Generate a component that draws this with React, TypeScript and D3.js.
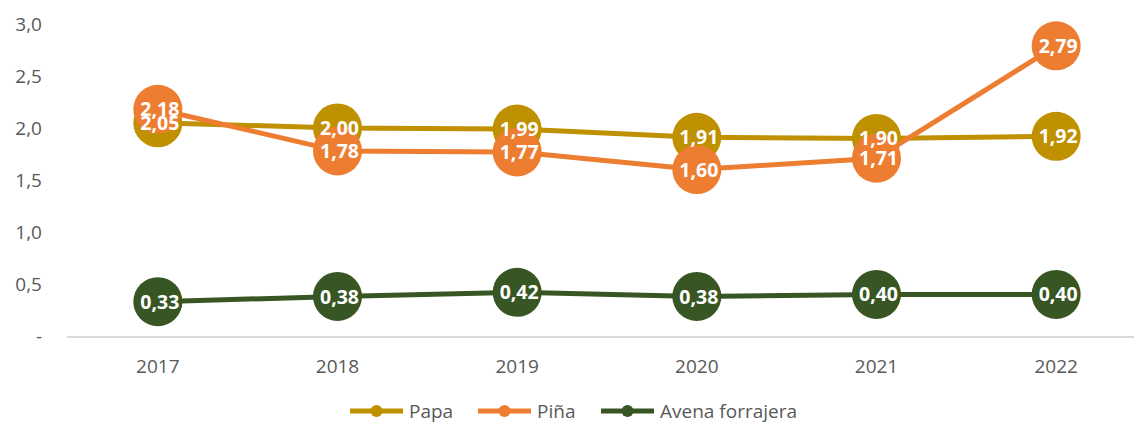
import React from "react";
import * as d3 from "d3";

const years = ["2017", "2018", "2019", "2020", "2021", "2022"];
const papa = [2.05, 2.0, 1.99, 1.91, 1.9, 1.92];
const pina = [2.18, 1.78, 1.77, 1.6, 1.71, 2.79];
const avena = [0.33, 0.38, 0.42, 0.38, 0.4, 0.4];
const yTicks = [0, 0.5, 1.0, 1.5, 2.0, 2.5, 3.0];

const seriesNames = ["Papa", "Piña", "Avena forrajera"];
const seriesColors = ["#BF9000", "#ED7D31", "#375623"];

const W = 1134;
const H = 423;
const FONT = "'Open Sans', Lato, sans-serif";

const fmt = (v: number) => v.toFixed(2).replace(".", ",");
const fmtTick = (v: number) => (v === 0 ? "-" : v.toFixed(1).replace(".", ","));

export default function App() {
  const x = d3.scaleBand<string>().domain(years).range([68, 1146]);
  const y = d3.scaleLinear().domain([0, 3]).range([336, 24]);
  const cx = (yr: string) => (x(yr) ?? 0) + x.bandwidth() / 2;
  const data = [papa, pina, avena];
  const line = d3
    .line<number>()
    .x((_, i) => cx(years[i]))
    .y((d) => y(d));

  const legendItems = [
    { lx: 350, tx: 409 },
    { lx: 478, tx: 537 },
    { lx: 601, tx: 660 },
  ];

  return (
    <svg width={W} height={H} style={{ position: "absolute", left: 0, top: 0, background: "#fff" }}>
      {yTicks.map((t) => (
        <text
          key={t}
          x={42}
          y={y(t)}
          dy="0.35em"
          textAnchor="end"
          fontFamily={FONT}
          fontSize={19}
          fill="#595959"
        >
          {fmtTick(t)}
        </text>
      ))}
      <line x1={67} x2={W} y1={y(0) + 1} y2={y(0) + 1} stroke="#D9D9D9" strokeWidth={2} />
      {years.map((yr) => (
        <text
          key={yr}
          x={cx(yr)}
          y={373}
          textAnchor="middle"
          fontFamily={FONT}
          fontSize={19}
          fill="#595959"
        >
          {yr}
        </text>
      ))}
      {data.map((vals, si) => (
        <g key={si}>
          <path d={line(vals) ?? ""} fill="none" stroke={seriesColors[si]} strokeWidth={5} strokeLinejoin="round" />
          {vals.map((v, i) => (
            <circle key={i} cx={cx(years[i])} cy={y(v)} r={24.5} fill={seriesColors[si]} />
          ))}
        </g>
      ))}
      {data.map((vals, si) => (
        <g key={"l" + si}>
          {vals.map((v, i) => (
            <text
              key={i}
              x={cx(years[i]) + 2}
              y={y(v)}
              dy="0.36em"
              textAnchor="middle"
              fontFamily={FONT}
              fontWeight="bold"
              fontSize={19.5}
              fill="#fff"
            >
              {fmt(v)}
            </text>
          ))}
        </g>
      ))}
      {legendItems.map((it, si) => (
        <g key={"g" + si}>
          <line x1={it.lx} x2={it.lx + 53} y1={411} y2={411} stroke={seriesColors[si]} strokeWidth={5} />
          <circle cx={it.lx + 26.5} cy={411} r={6} fill={seriesColors[si]} />
          <text x={it.tx} y={411} dy="0.35em" fontFamily={FONT} fontSize={19} fill="#595959">
            {seriesNames[si]}
          </text>
        </g>
      ))}
    </svg>
  );
}
